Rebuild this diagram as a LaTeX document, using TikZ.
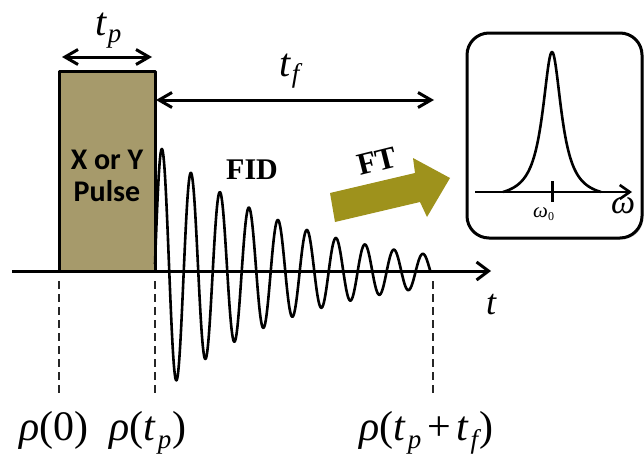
\documentclass[tikz,border=0pt]{standalone}
\usepackage{fontspec}
\setmainfont{Liberation Serif}[ItalicFont={Liberation Serif Italic},BoldFont={Liberation Serif Bold}]
\newfontfamily\calfont{Carlito}
\usetikzlibrary{arrows.meta,shadows}
\definecolor{pulsetan}{RGB}{166,154,107}
\definecolor{ftolive}{RGB}{158,146,28}
\newcommand\lowsub[3]{\raisebox{-#1}{\fontsize{#2}{#2}\selectfont\itshape #3}}
\begin{document}
\begin{tikzpicture}[x=1pt,y=-1pt,line join=round,
  heavy/.style={line width=3pt},
  wave/.style={line width=2.6pt},
  dbarb/.style={arrows={Straight Barb[length=13pt,width=15pt]-Straight Barb[length=13pt,width=15pt]}},
  guide/.style={line width=1.3pt,dash pattern=on 8pt off 5pt,black!85},
  lbl/.style={inner sep=0pt,anchor=base west},
  big/.style={font=\rmfamily\fontsize{42}{42}\selectfont}]
\useasboundingbox (0,0) rectangle (644,455);

% time axis
\coordinate (ax0) at (12,271);
\coordinate (ax1) at (491,271);
\draw[heavy,arrows={-Straight Barb[length=12pt,width=18pt]}] (ax0) -- (ax1);

% pulse box
\node[draw,heavy,fill=pulsetan,minimum width=96pt,minimum height=200pt,inner sep=0pt] (pulse) at (107,171) {};
\node[font=\calfont\bfseries\fontsize{30}{32}\selectfont,align=center,inner sep=0pt] (pulsetxt) at (107,176) {X or Y\\Pulse};

% t_p arrow
\coordinate (tpL) at (62,57);
\coordinate (tpR) at (152,57);
\draw[heavy,dbarb] (tpL) -- (tpR);
\node[lbl,font=\rmfamily] (tplab) at (95,35) {\fontsize{40}{40}\selectfont\itshape t\hspace{1.5pt}\lowsub{7pt}{27}{p}};

% t_f arrow
\coordinate (tfL) at (156,100);
\coordinate (tfR) at (434,100);
\draw[heavy,dbarb] (tfL) -- (tfR);
\node[lbl,font=\rmfamily] (tflab) at (279,76) {\fontsize{40}{40}\selectfont\itshape t\hspace{1.5pt}\lowsub{6pt}{27}{f}};

% FID wave
\draw[wave] plot[domain=155:430.25,samples=600] (\x,{271-122*exp(-(\x-162)/133)*cos((\x-162)*12.41379)});
\node[font=\rmfamily\bfseries\fontsize{30}{30}\selectfont,inner sep=0pt] (fid) at (252,170) {FID};

% FT arrow
\fill[ftolive] (330,193) -- (415,173) -- (413,158) -- (450,178) -- (427,217) -- (420,202) -- (335,222) -- cycle;
\node[rotate=14,font=\rmfamily\bfseries\fontsize{31}{31}\selectfont,inner sep=0pt] (ft) at (377,161) {FT};

% inset spectrum
\node[draw,heavy,fill=white,rounded corners=22pt,minimum width=175pt,minimum height=205pt,
  drop shadow={shadow xshift=1.5pt,shadow yshift=-1.5pt,fill=black!35}] (inset) at (554.5,135.5) {};
\coordinate (w0) at (475,192);
\coordinate (w1) at (632,192);
\draw[line width=2.6pt,arrows={-Straight Barb[length=10pt,width=14pt]}] (w0) -- (w1);
\draw[wave] plot[domain=503:601,samples=197] (\x,{192-147.7*(1/(1+((\x-552)/11.5)^2)-0.0522)});
\draw[heavy] (552,181) -- (552,202);
\node[lbl,font=\rmfamily] (w0lab) at (533,217) {\fontsize{21}{21}\selectfont\itshape ω\lowsub{3pt}{12}{\upshape 0}};
\node[lbl,font=\rmfamily] (wlab) at (611,213) {\fontsize{34}{34}\selectfont\itshape ω};

% guides
\draw[guide] (59,281) -- (59,395);
\draw[guide] (155,281) -- (155,395);
\draw[guide] (433,281) -- (433,395);

% t label
\node[anchor=base,inner sep=0pt,font=\rmfamily] (tlab) at (491,314) {\fontsize{36}{36}\selectfont\itshape t};

% rho labels
\node[lbl,big] (r0) at (19,440) {\textit{ρ}(0)};
\node[lbl,big] (r1) at (109,440) {\textit{ρ}(\textit{t}\hspace{2pt}\lowsub{8pt}{27}{p}\hspace{1pt})};
\node[lbl,big] (r2) at (359,440) {\textit{ρ}(\textit{t}\hspace{2pt}\lowsub{8pt}{27}{p}\hspace{6pt}+\hspace{5pt}\textit{t}\hspace{2pt}\lowsub{8pt}{27}{f}\hspace{1pt})};
\end{tikzpicture}
\end{document}
